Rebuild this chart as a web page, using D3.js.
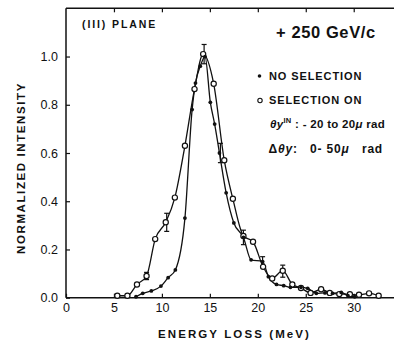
<!DOCTYPE html>
<html><head><meta charset="utf-8">
<script src="https://cdn.jsdelivr.net/npm/d3@7"></script>
<style>
body{margin:0;background:#fff;}
svg{display:block;}
text{font-family:"Liberation Sans",Arial,sans-serif;fill:#111;}
</style></head>
<body>
<svg id="c" width="394" height="341"></svg>
<script>
// Data: NO SELECTION (filled dots)
const noSelE = [7.3, 8.0, 8.9, 9.9, 10.65, 11.4, 12.4, 13.15, 13.5, 14.0, 14.5, 15.05, 15.5, 16.0, 16.7, 17.5, 18.5, 19.3, 20.5, 21.1, 21.95, 22.7, 23.4, 24.5, 25.2, 26.1, 27.0, 27.8, 28.7, 29.4, 30.1];
const noSelV = [0.004, 0.018, 0.028, 0.048, 0.083, 0.115, 0.33, 0.78, 0.89, 0.96, 1.0, 0.81, 0.72, 0.60, 0.435, 0.31, 0.25, 0.157, 0.15, 0.087, 0.055, 0.05, 0.043, 0.043, 0.039, 0.018, 0.02, 0.018, 0.022, 0.008, 0.004];
// Data: SELECTION ON (open circles)
const selE = [5.35, 6.4, 7.4, 8.4, 9.3, 10.4, 11.35, 12.4, 13.4, 14.3, 15.4, 16.5, 17.4, 18.5, 19.5, 20.55, 21.5, 22.6, 23.6, 24.5, 25.5, 26.6, 27.5, 28.5, 29.6, 30.55, 31.6, 32.6];
const selV = [0.008, 0.008, 0.055, 0.09, 0.243, 0.313, 0.415, 0.63, 0.865, 1.01, 0.887, 0.57, 0.41, 0.256, 0.232, 0.128, 0.08, 0.112, 0.055, 0.04, 0.02, 0.035, 0.02, 0.015, 0.014, 0.012, 0.018, 0.008];
// Error bars
const errE = [8.4, 10.5, 14.4, 16.1, 18.5, 20.5, 22.6];
const errLo = [0.075, 0.275, 0.97, 0.56, 0.22, 0.13, 0.085];
const errHi = [0.105, 0.35, 1.05, 0.64, 0.28, 0.17, 0.135];
const xTicks = [0, 5, 10, 15, 20, 25, 30];
const yTicks = [0.0, 0.2, 0.4, 0.6, 0.8, 1.0];

const svg = d3.select("#c");
const x = d3.scaleLinear().domain([0, 34.2]).range([66, 394]);
const y = d3.scaleLinear().domain([0, 1.2]).range([297.7, 8.3]);

// frame
const frame = svg.append("g").attr("stroke", "#111").attr("stroke-width", 1.5).attr("fill", "none");
frame.append("line").attr("x1", x(0)).attr("x2", x(0)).attr("y1", y(1.2)).attr("y2", y(0));
frame.append("line").attr("x1", x(0)).attr("x2", x(34.2)).attr("y1", y(1.2)).attr("y2", y(1.2));
frame.append("line").attr("x1", x(0)).attr("x2", x(34.2)).attr("y1", y(0)).attr("y2", y(0));

// bottom axis
const xb = svg.append("g").attr("transform", `translate(0,${y(0)})`)
  .call(d3.axisBottom(x).tickValues(xTicks).tickSize(-4).tickPadding(6).tickFormat(d3.format("d")));
xb.select(".domain").remove();
xb.selectAll("line").attr("stroke", "#111").attr("stroke-width", 1.2);
xb.selectAll("text").attr("font-size", 12.5).attr("fill", "#111").attr("dy", "0.75em").attr("y", 5);
// top ticks
const xt = svg.append("g").attr("transform", `translate(0,${y(1.2)})`)
  .call(d3.axisTop(x).tickValues(xTicks.slice(1)).tickSize(-4).tickFormat(""));
xt.select(".domain").remove();
xt.selectAll("line").attr("stroke", "#111").attr("stroke-width", 1.2);

// left axis
const yl = svg.append("g").attr("transform", `translate(${x(0)},0)`)
  .call(d3.axisLeft(y).tickValues(yTicks).tickSize(-4).tickPadding(8).tickFormat(d3.format(".1f")));
yl.select(".domain").remove();
yl.selectAll("line").attr("stroke", "#111").attr("stroke-width", 1.2);
yl.selectAll("text").attr("font-size", 12.5).attr("fill", "#111");

// axis titles
svg.append("text").attr("x", 234.5).attr("y", 337.5).attr("text-anchor", "middle")
  .attr("font-size", 11.5).attr("font-weight", "bold").attr("letter-spacing", 2.1)
  .text("ENERGY LOSS  (MeV)");
svg.append("text").attr("transform", "translate(25,168) rotate(-90)").attr("text-anchor", "middle")
  .attr("font-size", 11.5).attr("font-weight", "bold").attr("letter-spacing", 1.6)
  .text("NORMALIZED INTENSITY");

// annotations
svg.append("text").attr("x", 82).attr("y", 28.3).attr("font-size", 10.5).attr("font-weight", "bold")
  .attr("letter-spacing", 1.9).text("(III)  PLANE");
svg.append("text").attr("x", 276).attr("y", 37.5).attr("font-size", 16.5).attr("font-weight", "bold")
  .attr("letter-spacing", 0.6).text("+ 250 GeV/c");

// series
const lineGen = d3.line().x(d => x(d[0])).y(d => y(d[1])).curve(d3.curveMonotoneX);
const filled = noSelE.map((e, i) => [e, noSelV[i]]);
const open = selE.map((e, i) => [e, selV[i]]);
svg.append("path").datum(filled).attr("d", lineGen).attr("fill", "none").attr("stroke", "#111").attr("stroke-width", 1.3);
svg.append("path").datum(open).attr("d", lineGen).attr("fill", "none").attr("stroke", "#111").attr("stroke-width", 1.3);

// error bars
const eb = svg.append("g").attr("stroke", "#111").attr("stroke-width", 1.2);
errE.forEach((e, i) => {
  eb.append("line").attr("x1", x(e)).attr("x2", x(e)).attr("y1", y(errLo[i])).attr("y2", y(errHi[i]));
  eb.append("line").attr("x1", x(e) - 2.5).attr("x2", x(e) + 2.5).attr("y1", y(errLo[i])).attr("y2", y(errLo[i]));
  eb.append("line").attr("x1", x(e) - 2.5).attr("x2", x(e) + 2.5).attr("y1", y(errHi[i])).attr("y2", y(errHi[i]));
});

svg.append("g").selectAll("circle").data(open).join("circle")
  .attr("cx", d => x(d[0])).attr("cy", d => y(d[1])).attr("r", 2.6)
  .attr("fill", "#fff").attr("stroke", "#111").attr("stroke-width", 1.2);
svg.append("g").selectAll("circle").data(filled).join("circle")
  .attr("cx", d => x(d[0])).attr("cy", d => y(d[1])).attr("r", 1.9)
  .attr("fill", "#111");

// legend
svg.append("circle").attr("cx", 259.5).attr("cy", 76).attr("r", 1.8).attr("fill", "#111");
svg.append("text").attr("x", 269).attr("y", 80).attr("font-size", 11).attr("font-weight", "bold")
  .attr("letter-spacing", 0.9).text("NO SELECTION");
svg.append("circle").attr("cx", 260).attr("cy", 100.5).attr("r", 2.2).attr("fill", "#fff").attr("stroke", "#111").attr("stroke-width", 1.1);
svg.append("text").attr("x", 269).attr("y", 104.3).attr("font-size", 11).attr("font-weight", "bold")
  .attr("letter-spacing", 0.9).text("SELECTION ON");
const t3 = svg.append("text").attr("x", 270).attr("y", 128).attr("font-size", 11.5).attr("font-weight", "bold").attr("letter-spacing", 0.3);
t3.append("tspan").attr("font-style", "italic").text("θy");
t3.append("tspan").attr("font-size", 7.5).attr("dy", -5).text("IN");
t3.append("tspan").attr("dy", 5).text(" : - 20 to 20");
t3.append("tspan").attr("font-style", "italic").text("μ");
t3.append("tspan").text(" rad");
const t4 = svg.append("text").attr("x", 268.5).attr("y", 153).attr("font-size", 12).attr("font-weight", "bold").attr("letter-spacing", 0.8)
  .attr("xml:space", "preserve").style("white-space", "pre");
t4.append("tspan").text("Δ");
t4.append("tspan").attr("font-style", "italic").text("θy");
t4.append("tspan").text(":   0- 50");
t4.append("tspan").attr("font-style", "italic").text("μ");
t4.append("tspan").text("   rad");
</script>
</body></html>
